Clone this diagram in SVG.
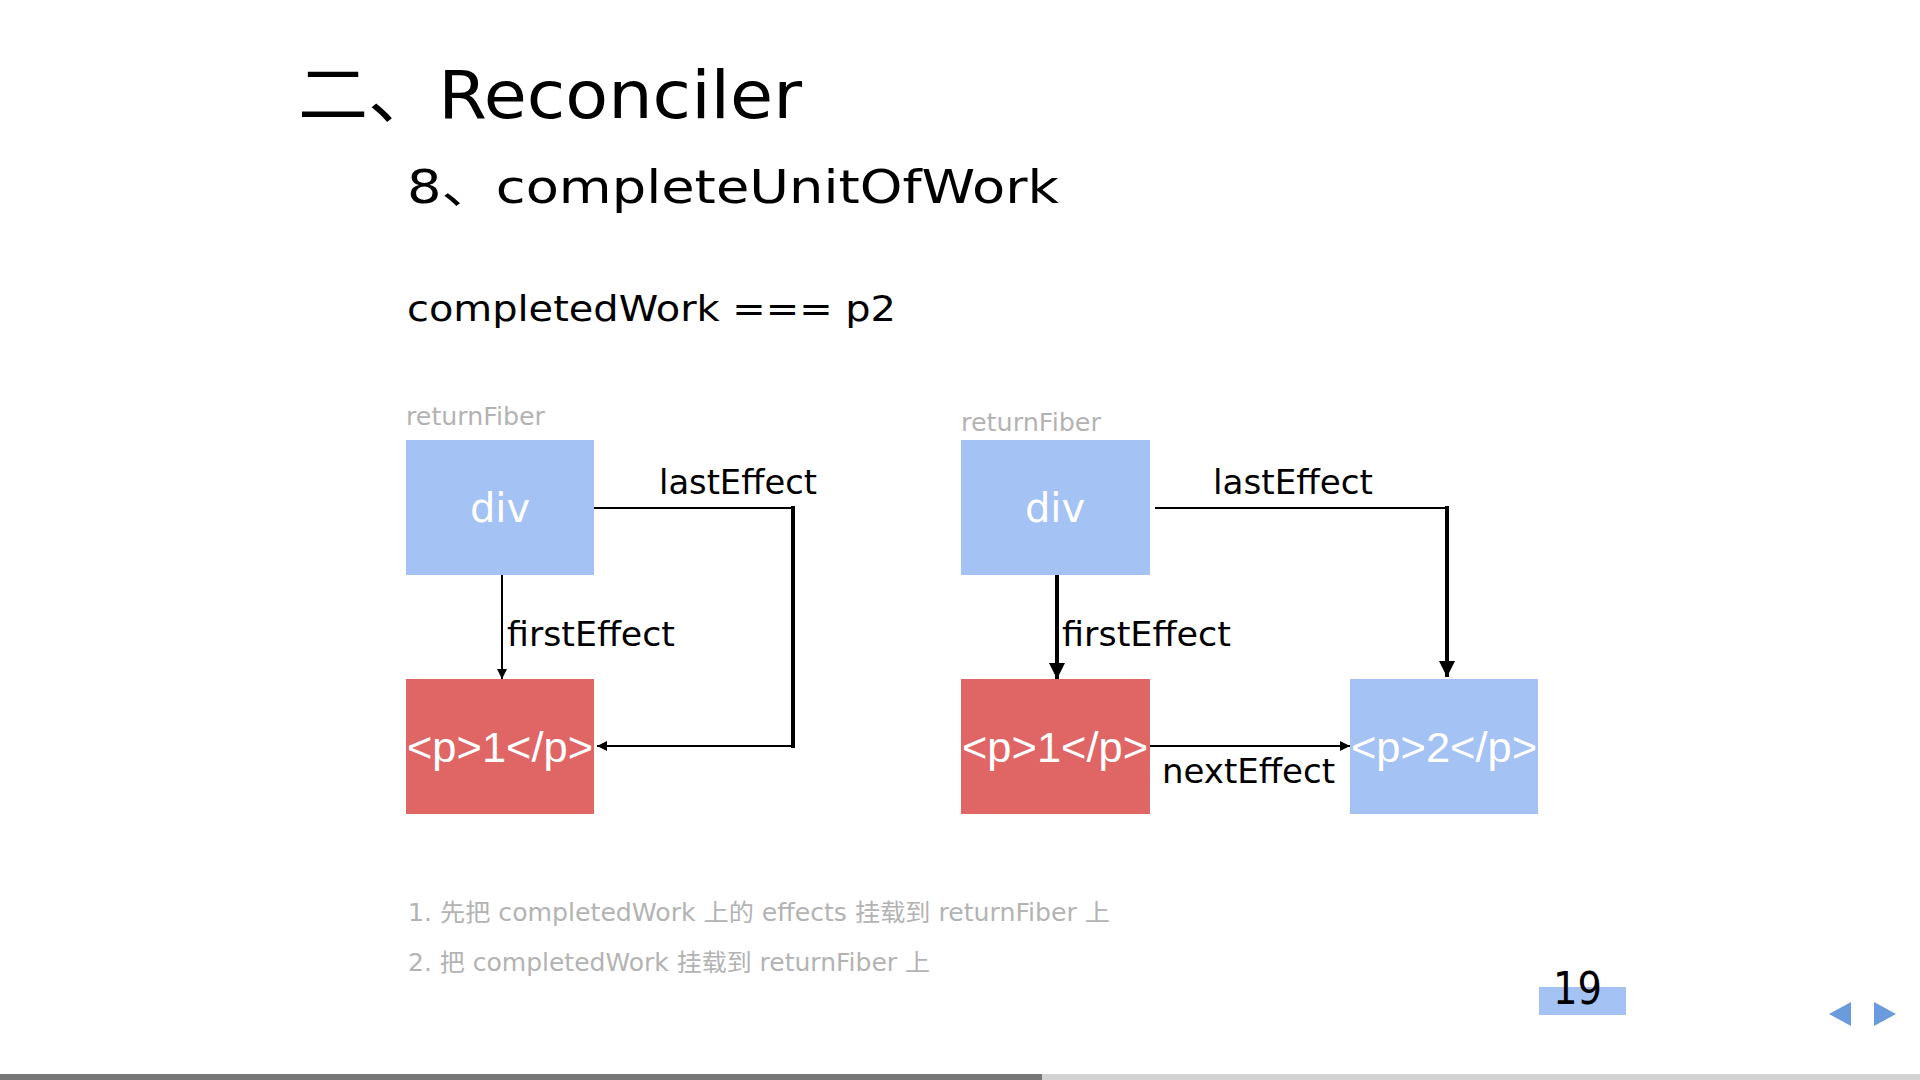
<svg xmlns="http://www.w3.org/2000/svg" width="1920" height="1080" viewBox="0 0 1920 1080">
<style>
text{font-family:"DejaVu Sans","Noto Sans CJK SC",sans-serif;}
.t{fill:#000;}
.g{fill:#b3b3b3;}
.w{fill:#fff;}
.bx{font-family:"Liberation Sans","Noto Sans CJK SC",sans-serif;font-size:43px;}
.lbl{font-size:33px;fill:#000;}
.blue{fill:#a4c2f4;}
.red{fill:#e06666;}
.thin{stroke:#000;stroke-width:2;fill:none;}
.thick{stroke:#000;stroke-width:4;fill:none;}
</style>
<defs>
<marker id="ah" viewBox="0 0 10 10" refX="10" refY="5" markerWidth="5" markerHeight="5" markerUnits="strokeWidth" orient="auto">
<path d="M0,0 L10,5 L0,10 z" fill="#000"/>
</marker>
<marker id="ahb" viewBox="0 0 10 10" refX="10" refY="5" markerWidth="4" markerHeight="4" markerUnits="strokeWidth" orient="auto">
<path d="M0,0 L10,5 L0,10 z" fill="#000"/>
</marker>
</defs>
<rect width="1920" height="1080" fill="#fff"/>
<text class="t" x="298" y="118" font-size="66" textLength="504" lengthAdjust="spacingAndGlyphs">二、Reconciler</text>
<text class="t" x="407" y="203" font-size="46" textLength="652" lengthAdjust="spacingAndGlyphs">8、completeUnitOfWork</text>
<text class="t" x="407" y="321" font-size="36" textLength="489" lengthAdjust="spacingAndGlyphs">completedWork === p2</text>

<g id="connectors">
<line class="thin" x1="502" y1="575" x2="502" y2="679" marker-end="url(#ah)"/>
<polyline class="thin" points="594,508 793,508"/>
<line class="thick" x1="793" y1="506" x2="793" y2="748"/>
<line class="thin" x1="793" y1="746" x2="597" y2="746" marker-end="url(#ah)"/>
<line class="thick" x1="1057" y1="575" x2="1057" y2="679" marker-end="url(#ahb)"/>
<polyline class="thin" points="1155,508 1447,508"/>
<line class="thick" x1="1447" y1="506" x2="1447" y2="677" marker-end="url(#ahb)"/>
<line class="thin" x1="1150" y1="746" x2="1350" y2="746" marker-end="url(#ah)"/>
<text class="lbl" x="659" y="494" textLength="158" lengthAdjust="spacingAndGlyphs">lastEffect</text>
<text class="lbl" x="507" y="646" textLength="168" lengthAdjust="spacingAndGlyphs">firstEffect</text>
<text class="lbl" x="1213" y="494" textLength="160" lengthAdjust="spacingAndGlyphs">lastEffect</text>
<text class="lbl" x="1062" y="646" textLength="169" lengthAdjust="spacingAndGlyphs">firstEffect</text>
<text class="lbl" x="1162" y="783" textLength="173" lengthAdjust="spacingAndGlyphs">nextEffect</text>
</g>

<g id="returnFiber1">
<text class="g" x="406" y="425" font-size="24" textLength="139" lengthAdjust="spacingAndGlyphs">returnFiber</text>
</g>
<g id="div1">
<rect class="blue" x="406" y="440" width="188" height="135"/>
<text class="w" x="500" y="522" font-size="40" text-anchor="middle">div</text>
</g>
<g id="p1-left">
<rect class="red" x="406" y="679" width="188" height="135"/>
<text class="w bx" x="407" y="762" textLength="186" lengthAdjust="spacingAndGlyphs">&lt;p&gt;1&lt;/p&gt;</text>
</g>

<g id="returnFiber2">
<text class="g" x="961" y="431" font-size="24" textLength="140" lengthAdjust="spacingAndGlyphs">returnFiber</text>
</g>
<g id="div2">
<rect class="blue" x="961" y="440" width="189" height="135"/>
<text class="w" x="1055" y="522" font-size="40" text-anchor="middle">div</text>
</g>
<g id="p1-right">
<rect class="red" x="961" y="679" width="189" height="135"/>
<text class="w bx" x="962" y="762" textLength="186" lengthAdjust="spacingAndGlyphs">&lt;p&gt;1&lt;/p&gt;</text>
</g>
<g id="p2">
<rect class="blue" x="1350" y="679" width="188" height="135"/>
<text class="w bx" x="1351" y="762" textLength="186" lengthAdjust="spacingAndGlyphs">&lt;p&gt;2&lt;/p&gt;</text>
</g>

<text class="g" x="408" y="921" font-size="24" textLength="702" lengthAdjust="spacingAndGlyphs">1. 先把 completedWork 上的 effects 挂载到 returnFiber 上</text>
<text class="g" x="408" y="971" font-size="24" textLength="522" lengthAdjust="spacingAndGlyphs">2. 把 completedWork 挂载到 returnFiber 上</text>

<rect x="1539" y="987" width="87" height="28" fill="#a4c2f4"/>
<text class="t" x="1553" y="1004" font-size="44" textLength="49" lengthAdjust="spacingAndGlyphs">19</text>
<polygon points="1829,1014 1851,1002 1851,1026" fill="#6a9bdc"/>
<polygon points="1874,1002 1896,1014 1874,1026" fill="#6a9bdc"/>
<rect x="0" y="1074" width="1920" height="6" fill="#d3d3d3"/>
<rect x="0" y="1074" width="1042" height="6" fill="#777"/>
</svg>
